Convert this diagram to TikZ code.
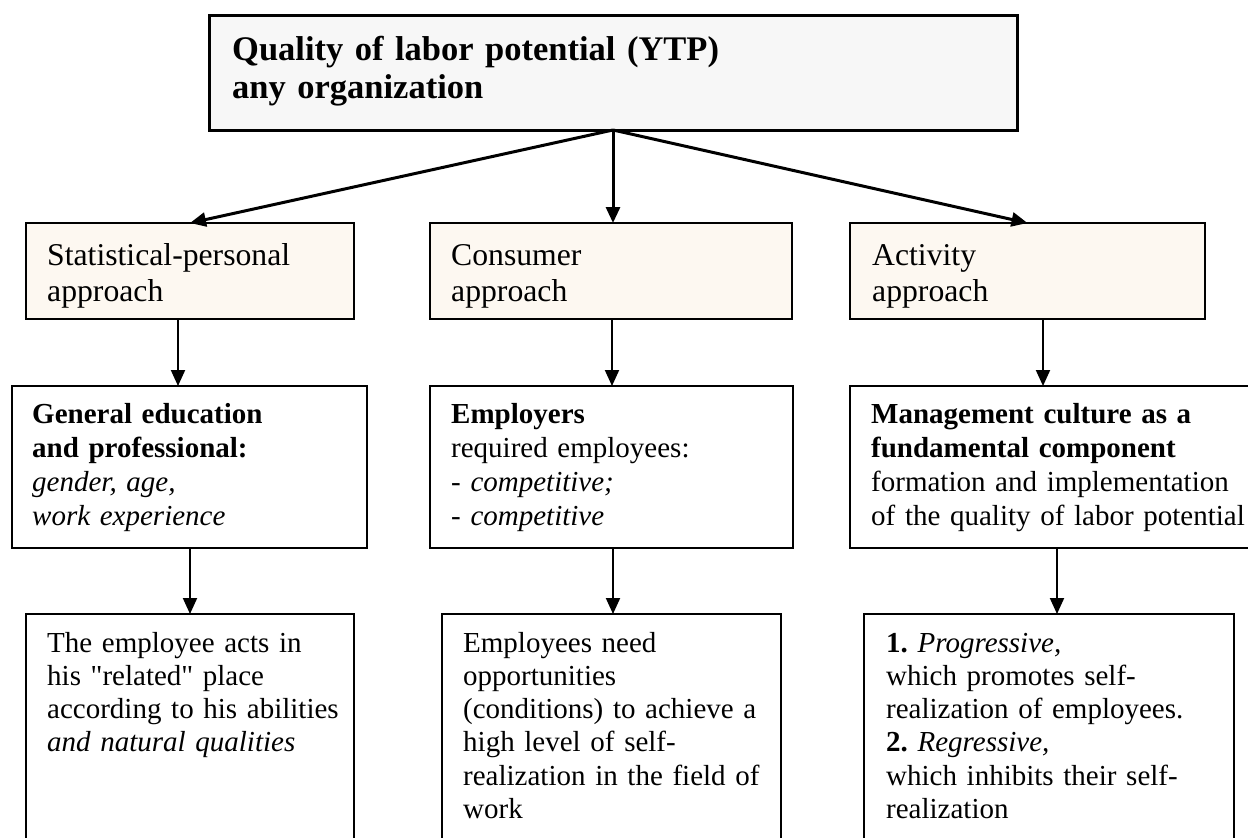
\documentclass[tikz,border=0pt]{standalone}
\usepackage{fontspec}
\setmainfont{Liberation Serif}[Ligatures=TeXOff]
\usetikzlibrary{arrows.meta,calc}
\definecolor{topfill}{HTML}{F7F7F7}
\definecolor{creamfill}{HTML}{FDF8F1}
\frenchspacing
\begin{document}
\begin{tikzpicture}[x=1pt,y=-1pt,
  boxbase/.style={draw=black,rectangle,anchor=north west,inner sep=0pt,outer sep=0pt},
  topbox/.style={boxbase,fill=topfill,line width=3pt},
  apbox/.style={boxbase,fill=creamfill,line width=2pt},
  midbox/.style={boxbase,fill=white,line width=2.5pt},
  lowbox/.style={boxbase,fill=white,line width=2pt},
  txt/.style={anchor=base west,inner sep=0pt,align=left,text width=700pt},
  topfont/.style={font=\fontsize{34.5}{38}\selectfont\bfseries\frenchspacing},
  apfont/.style={font=\fontsize{31.7}{36}\selectfont\frenchspacing},
  bodyfont/.style={font=\fontsize{29}{34}\selectfont\frenchspacing},
  lowfont/.style={font=\fontsize{29}{33.3}\selectfont\frenchspacing},
  toparr/.style={line width=3pt,-{Triangle[length=16pt,width=14pt]}},
  arr/.style={line width=2pt,-{Triangle[length=16pt,width=14pt]}}]
\useasboundingbox (0,0) rectangle (1248,838);
\clip (0,0) rectangle (1248,838);
\fill[white] (0,0) rectangle (1248,838);

% top box
\node[topbox,minimum width=808pt,minimum height=115pt] (top) at (209,15) {};
\node[txt,topfont] (ttop) at (232,60) {Quality of labor potential (YTP)\\any organization};

% approach boxes
\node[apbox,minimum width=328pt,minimum height=96pt] (r2a) at (26,223) {};
\node[apbox,minimum width=362pt,minimum height=96pt] (r2b) at (430,223) {};
\node[apbox,minimum width=355pt,minimum height=96pt] (r2c) at (850,223) {};
\node[txt,apfont] (t2a) at (47,265) {Statistical-personal\\approach};
\node[txt,apfont] (t2b) at (451,265) {Consumer\\approach};
\node[txt,apfont] (t2c) at (872,265) {Activity\\approach};

% middle boxes
\node[midbox,minimum width=355pt,minimum height=162pt] (r3a) at (12,386) {};
\node[midbox,minimum width=363pt,minimum height=162pt] (r3b) at (430,386) {};
\node[midbox,minimum width=430pt,minimum height=162pt] (r3c) at (850,386) {};
\node[txt,bodyfont] (t3a) at (32,423) {\textbf{General education}\\\textbf{and professional:}\\\textit{gender, age,}\\\textit{work experience}};
\node[txt,bodyfont] (t3b) at (451,423) {\textbf{Employers}\\required employees:\\- \textit{competitive;}\\- \textit{competitive}};
\node[txt,bodyfont] (t3c) at (871,423) {\textbf{Management culture as a}\\\textbf{fundamental component}\\formation and implementation\\of the quality of labor potential};

% lower boxes
\node[lowbox,minimum width=328pt,minimum height=260pt] (r4a) at (26,614) {};
\node[lowbox,minimum width=339pt,minimum height=260pt] (r4b) at (442,614) {};
\node[lowbox,minimum width=370pt,minimum height=260pt] (r4c) at (864,614) {};
\node[txt,lowfont] (t4a) at (47,652) {The employee acts in\\his "related" place\\according to his abilities\\\textit{and natural qualities}};
\node[txt,lowfont] (t4b) at (463,652) {Employees need\\opportunities\\(conditions) to achieve a\\high level of self-\\realization in the field of\\work};
\node[txt,lowfont] (t4c) at (886,652) {\textbf{1.} \textit{Progressive,}\\which promotes self-\\realization of employees.\\\textbf{2.} \textit{Regressive,}\\which inhibits their self-\\realization};

% connectors
\coordinate (src) at (top.south);
\draw[toparr] (src) -- (r2a.north);
\draw[toparr] (src) -- (src |- r2b.north);
\draw[toparr] (src) -- (r2c.north);

\draw[arr] ([xshift=-12pt]r2a.south) -- ([xshift=-12pt]r2a.south |- r3a.north);
\draw[arr] ([xshift=1pt]r2b.south) -- ([xshift=1pt]r2b.south |- r3b.north);
\draw[arr] ([xshift=15.5pt]r2c.south) -- ([xshift=15.5pt]r2c.south |- r3c.north);

\draw[arr] (r4a.north |- r3a.south) -- (r4a.north);
\draw[arr] ([xshift=1.5pt]r4b.north |- r3b.south) -- ([xshift=1.5pt]r4b.north);
\draw[arr] ([xshift=8pt]r4c.north |- r3c.south) -- ([xshift=8pt]r4c.north);
\end{tikzpicture}
\end{document}
